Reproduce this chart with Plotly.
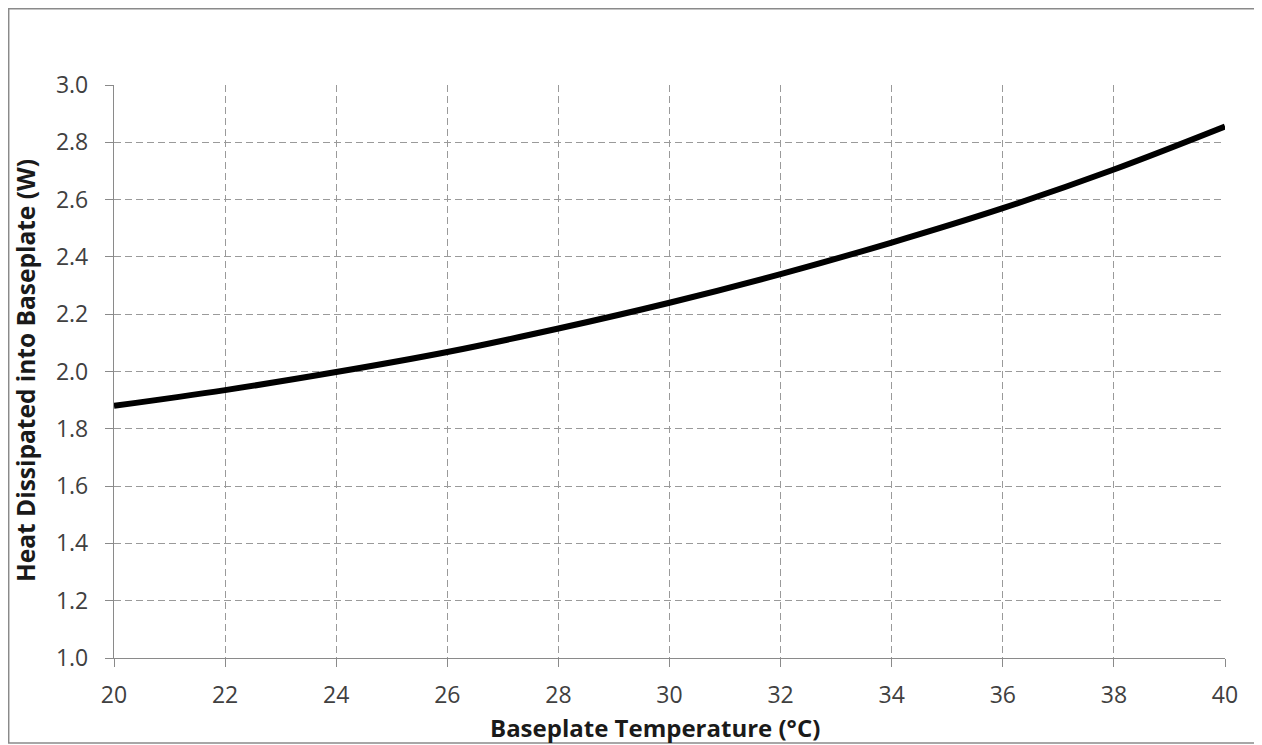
import plotly.graph_objects as go

temperature_c = [20, 22, 24, 26, 28, 30, 32, 34, 36, 38, 40]
heat_w = [1.880, 1.935, 1.998, 2.068, 2.150, 2.240, 2.340, 2.450, 2.570, 2.705, 2.855]

x_ticks = [20, 22, 24, 26, 28, 30, 32, 34, 36, 38, 40]
y_ticks = [1.0, 1.2, 1.4, 1.6, 1.8, 2.0, 2.2, 2.4, 2.6, 2.8, 3.0]

x_title = "Baseplate Temperature (°C)"
y_title = "Heat Dissipated into Baseplate (W)"

# page body has an 8px margin, so figure coordinates = window coordinates - 8
OFF = 8
W, H = 1262 - OFF, 745 - OFF
L, T = 114 - OFF, 85 - OFF
R = W - (1225 - OFF)
B = H - (658 - OFF)
pw, ph = W - L - R, H - T - B

def px_x(px):
    return (px - OFF - L) / pw

def px_y(py):
    return (H - B - (py - OFF)) / ph

fig = go.Figure()
fig.add_trace(go.Scatter(
    x=temperature_c, y=heat_w, mode="lines",
    line=dict(color="black", width=6, shape="spline"),
    showlegend=False, hoverinfo="x+y",
))

font_family = "'Open Sans', Lato, sans-serif"
grid_col = "#9a9a9a"
axis_col = "#8a8a8a"
fig.update_layout(
    width=W, height=H,
    margin=dict(l=L, r=R, t=T, b=B),
    paper_bgcolor="white", plot_bgcolor="white",
    font=dict(family=font_family, color="#404040", size=23),
    xaxis=dict(
        range=[20, 40], tickvals=x_ticks, ticktext=[str(v) for v in x_ticks],
        showgrid=True, gridcolor=grid_col, griddash="7px,4px", gridwidth=1,
        showline=True, linecolor=axis_col, linewidth=1.3,
        ticks="outside", ticklen=8, tickcolor=axis_col, tickwidth=1,
        ticklabelstandoff=8,
        zeroline=False, tickfont=dict(size=23, color="#404040"),
    ),
    yaxis=dict(
        range=[1.0, 3.0], tickvals=y_ticks, ticktext=[f"{v:.1f}" for v in y_ticks],
        showgrid=True, gridcolor=grid_col, griddash="7px,4px", gridwidth=1,
        showline=True, linecolor=axis_col, linewidth=1.3,
        ticks="outside", ticklen=8, tickcolor=axis_col, tickwidth=1,
        ticklabelstandoff=12,
        zeroline=False, tickfont=dict(size=23, color="#404040"),
    ),
    annotations=[
        dict(text=f"<b>{x_title}</b>", xref="paper", yref="paper",
             x=px_x(655), y=px_y(727), xanchor="center", yanchor="middle",
             showarrow=False, font=dict(size=24, color="#1a1a1a")),
        dict(text=f"<b>{y_title}</b>", xref="paper", yref="paper",
             x=px_x(25), y=px_y(371), xanchor="center", yanchor="middle",
             textangle=-90, showarrow=False, font=dict(size=24.5, color="#1a1a1a")),
    ],
    shapes=[dict(
        type="rect", xref="paper", yref="paper",
        x0=px_x(8.7), x1=px_x(1257),
        y0=px_y(743), y1=px_y(8.7),
        line=dict(color=axis_col, width=1.5), fillcolor="rgba(0,0,0,0)", layer="below",
    )],
)

fig.write_html("out.html")
